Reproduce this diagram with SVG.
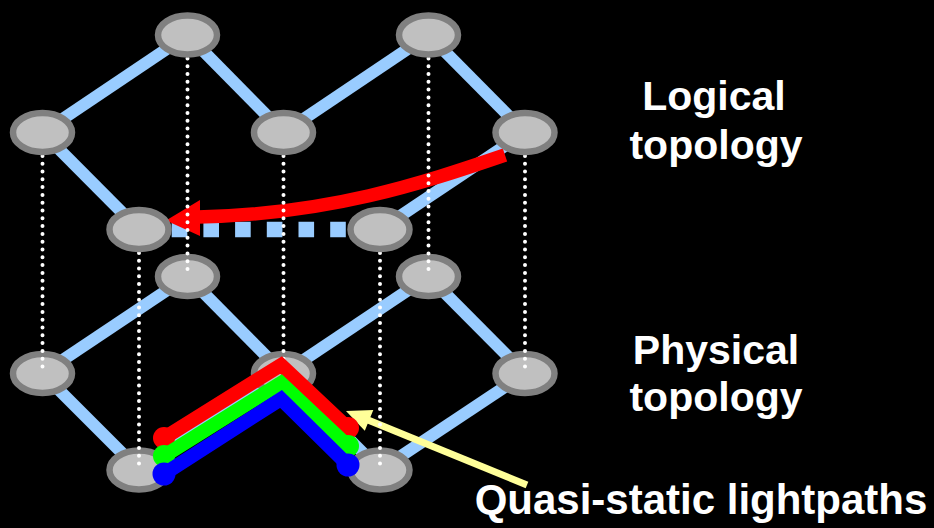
<svg xmlns="http://www.w3.org/2000/svg" width="934" height="528" viewBox="0 0 934 528">
<style>
.edge{stroke:#99ccff;stroke-width:12;fill:none}
.node ellipse{fill:#c0c0c0;stroke:#808080;stroke-width:6.5}
.dot{stroke:#ffffff;stroke-width:4;stroke-dasharray:0 7.8;stroke-linecap:round;fill:none}
.lp{fill:none;stroke-width:14;stroke-linejoin:miter;stroke-miterlimit:10}
.lbl{font-family:"Liberation Sans",Arial,sans-serif;font-weight:bold;fill:#ffffff;font-size:41px;text-anchor:middle}
</style>
<rect x="0" y="0" width="934" height="528" fill="#000000"/>

<g id="connectors">
  <g id="physical-edges">
    <line class="edge" x1="187.5" y1="276.5" x2="42.5" y2="373.5"/>
    <line class="edge" x1="187.5" y1="276.5" x2="283.5" y2="373.5"/>
    <line class="edge" x1="283.5" y1="373.5" x2="428.5" y2="276.5"/>
    <line class="edge" x1="428.5" y1="276.5" x2="525" y2="373.5"/>
    <line class="edge" x1="42.5" y1="373.5" x2="139" y2="470"/>
    <line class="edge" x1="525" y1="373.5" x2="380" y2="470"/>
    <line class="edge" x1="139" y1="470" x2="283.5" y2="373.5"/>
    <line class="edge" x1="283.5" y1="373.5" x2="380" y2="470"/>
  </g>
</g>

<g id="physical-nodes">
  <g id="pa" class="node"><ellipse cx="187.5" cy="276.5" rx="29.5" ry="19.5"/></g>
  <g id="pb" class="node"><ellipse cx="428.5" cy="276.5" rx="29.5" ry="19.5"/></g>
  <g id="pc" class="node"><ellipse cx="42.5" cy="373.5" rx="29.5" ry="19.5"/></g>
  <g id="pd" class="node"><ellipse cx="283.5" cy="373.5" rx="29.5" ry="19.5"/></g>
  <g id="pe" class="node"><ellipse cx="525" cy="373.5" rx="29.5" ry="19.5"/></g>
  <g id="pf" class="node"><ellipse cx="139" cy="470" rx="29.5" ry="19.5"/></g>
  <g id="pg" class="node"><ellipse cx="380" cy="470" rx="29.5" ry="19.5"/></g>
</g>

<g id="logical-connectors">
  <line class="edge" x1="187.5" y1="35" x2="42.5" y2="132.5"/>
  <line class="edge" x1="187.5" y1="35" x2="283.5" y2="132.5"/>
  <line class="edge" x1="283.5" y1="132.5" x2="428.5" y2="35"/>
  <line class="edge" x1="428.5" y1="35" x2="525" y2="132.5"/>
  <line class="edge" x1="42.5" y1="132.5" x2="139" y2="229.5"/>
  <line class="edge" x1="525" y1="132.5" x2="380" y2="229.5"/>
  <line x1="171.7" y1="229.5" x2="347" y2="229.5" stroke="#99ccff" stroke-width="15.6" stroke-dasharray="15.6 16.1"/>
  <path d="M505,155 C420,184 330,214 198,217" fill="none" stroke="#ff0000" stroke-width="13.5"/>
  <polygon points="166,220.5 200,200 200,236" fill="#ff0000"/>
  <line x1="527" y1="485" x2="368" y2="420" stroke="#ffff99" stroke-width="7"/>
  <polygon points="346,411 373.3,410 364.8,430.7" fill="#ffff99"/>
</g>

<g id="projections">
  <line class="dot" x1="42.5" y1="132.5" x2="42.5" y2="373.5"/>
  <line class="dot" x1="187.5" y1="35" x2="187.5" y2="276.5"/>
  <line class="dot" x1="283.5" y1="132.5" x2="283.5" y2="373.5"/>
  <line class="dot" x1="428.5" y1="35" x2="428.5" y2="276.5"/>
  <line class="dot" x1="525" y1="132.5" x2="525" y2="373.5"/>
  <line class="dot" x1="139" y1="229.5" x2="139" y2="470"/>
  <line class="dot" x1="380" y1="229.5" x2="380" y2="470"/>
</g>

<g id="logical-nodes">
  <g id="la" class="node"><ellipse cx="187.5" cy="35" rx="29.5" ry="19.5"/></g>
  <g id="lb" class="node"><ellipse cx="428.5" cy="35" rx="29.5" ry="19.5"/></g>
  <g id="lc" class="node"><ellipse cx="42.5" cy="132.5" rx="29.5" ry="19.5"/></g>
  <g id="ld" class="node"><ellipse cx="283.5" cy="132.5" rx="29.5" ry="19.5"/></g>
  <g id="le" class="node"><ellipse cx="525" cy="132.5" rx="29.5" ry="19.5"/></g>
  <g id="lf" class="node"><ellipse cx="139" cy="229.5" rx="29.5" ry="19.5"/></g>
  <g id="lg" class="node"><ellipse cx="380" cy="229.5" rx="29.5" ry="19.5"/></g>
</g>

<g id="lightpaths">
  <polyline class="lp" stroke="#ff0000" points="164,438 281,365 348,428"/>
  <circle cx="164" cy="438" r="11" fill="#ff0000"/>
  <circle cx="348" cy="428" r="11" fill="#ff0000"/>
  <polyline class="lp" stroke="#00ff00" points="164,456 281,383 348,446"/>
  <circle cx="164" cy="456" r="11" fill="#00ff00"/>
  <circle cx="348" cy="446" r="11" fill="#00ff00"/>
  <polyline class="lp" stroke="#0000ff" points="164,474 281,399 348,465"/>
  <circle cx="164" cy="474" r="11.5" fill="#0000ff"/>
  <circle cx="348" cy="465" r="11.5" fill="#0000ff"/>
</g>

<g id="labels">
  <text class="lbl" x="714" y="110">Logical</text>
  <text class="lbl" x="716" y="159">topology</text>
  <text class="lbl" x="716" y="364">Physical</text>
  <text class="lbl" x="716" y="411">topology</text>
  <text class="lbl" x="701" y="514" style="font-size:42px">Quasi-static lightpaths</text>
</g>
</svg>
